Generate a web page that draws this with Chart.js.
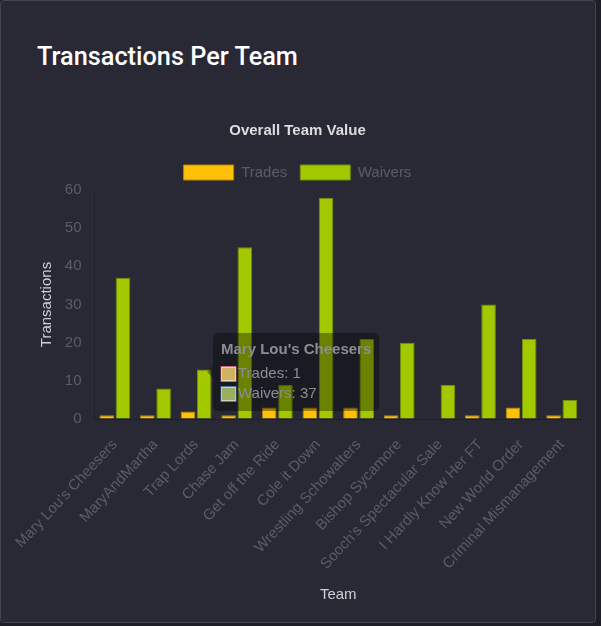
<!DOCTYPE html>
<html>
<head>
<meta charset="utf-8">
<script src="https://cdn.jsdelivr.net/npm/chart.js@4"></script>
<style>
  html, body { margin: 0; padding: 0; background: #1d1d25; }
  .card {
    position: absolute; left: 0; top: 0; width: 594px; height: 621px;
    background: #292936; border: 1px solid #45454f; border-radius: 4px;
  }
  .card h2 {
    position: absolute; left: 36px; top: 41px; margin: 0;
    font-family: Roboto, sans-serif; font-weight: 500; font-size: 25.3px; color: #ffffff;
  }
  .chart-box { position: absolute; left: 12px; top: 111px; width: 569px; height: 496px; }
</style>
</head>
<body>
<div class="card">
  <h2>Transactions Per Team</h2>
  <div class="chart-box"><canvas id="teamChart"></canvas></div>
</div>
<script>
// equipos y transacciones
const teams = ["Mary Lou's Cheesers", "MaryAndMartha", "Trap Lords", "Chase Jam", "Get off the Ride", "Cole it Down",
  "Wrestling Schowalters", "Bishop Sycamore", "Sooch's Spectacular Sale", "I Hardly Know Her FT", "New World Order", "Criminal Mismanagement"];
const trades = [1, 1, 2, 1, 3, 3, 3, 1, 0, 1, 3, 1];
const waivers = [37, 8, 13, 45, 9, 58, 21, 20, 9, 30, 21, 5];

const tickColor = '#5c5c63';

Chart.defaults.font.family = "Arial, 'Liberation Sans', sans-serif";
Chart.defaults.font.size = 15;

// posicion del tooltip tal como aparece en la captura
Chart.Tooltip.positioners.pinned = function(items, eventPosition) {
    return { x: 192, y: 260 };
};

const ctx = document.getElementById('teamChart').getContext('2d');
const chart = new Chart(ctx, {
    type: 'bar',
    data: {
        labels: teams,
        datasets: [
            { label: 'Trades', data: trades, backgroundColor: '#ffc107', borderColor: '#b58a0a', borderWidth: 1 },
            { label: 'Waivers', data: waivers, backgroundColor: '#a2c800', borderColor: '#738f0a', borderWidth: 1 }
        ]
    },
    options: {
        responsive: true,
        maintainAspectRatio: false,
        animation: false,
        plugins: {
            title: {
                display: true,
                text: 'Overall Team Value',
                color: '#dddddd',
                font: { size: 15, weight: 'bold' },
                padding: { top: 10, bottom: 12 }
            },
            legend: {
                labels: { color: tickColor, boxWidth: 50, boxHeight: 15, padding: 13 }
            },
            tooltip: {
                mode: 'index',
                intersect: false,
                position: 'pinned',
                backgroundColor: 'rgba(0,0,0,0.35)',
                titleColor: '#8c8c92',
                bodyColor: '#8c8c92',
                titleFont: { size: 15, weight: 'bold' },
                bodyFont: { size: 15 },
                padding: 8,
                caretSize: 6,
                cornerRadius: 6,
                boxWidth: 15,
                boxHeight: 15,
                callbacks: {
                    labelColor: function(item) {
                        return item.datasetIndex === 0
                            ? { borderColor: 'rgba(220,90,120,0.7)', backgroundColor: 'rgba(200,165,70,0.85)' }
                            : { borderColor: 'rgba(60,120,170,0.8)', backgroundColor: 'rgba(140,160,70,0.85)' };
                    }
                }
            }
        },
        scales: {
            x: {
                grid: { display: true, color: 'transparent', tickLength: 14 },
                border: { color: '#1f1f29' },
                ticks: { color: tickColor, autoSkip: false, minRotation: 47, maxRotation: 47 },
                title: { display: true, text: 'Team', color: '#cfcfd4', padding: { top: 10, bottom: 4 } }
            },
            y: {
                min: 0,
                max: 60,
                grid: { display: true, color: 'transparent' },
                border: { color: '#1f1f29' },
                ticks: { color: tickColor, stepSize: 10, padding: 5 },
                title: { display: true, text: 'Transactions', color: '#cfcfd4', padding: 4 }
            }
        }
    }
});

chart.tooltip.setActiveElements([{ datasetIndex: 0, index: 0 }, { datasetIndex: 1, index: 0 }], { x: 0, y: 0 });
chart.update();
</script>
</body>
</html>
